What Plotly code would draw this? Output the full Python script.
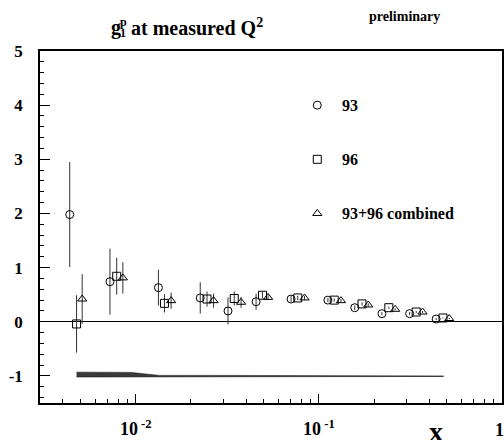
import math
import plotly.graph_objects as go

# ---- data ----
x93 = [0.00436, 0.00723, 0.0133, 0.0225, 0.0319, 0.0454, 0.0705, 0.112, 0.157, 0.221, 0.313, 0.437]
y93 = [1.98, 0.74, 0.63, 0.44, 0.20, 0.37, 0.42, 0.40, 0.26, 0.15, 0.15, 0.05]
e93 = [0.97, 0.61, 0.33, 0.29, 0.25, 0.15, 0.06, 0.04, 0.04, 0.03, 0.03, 0.02]

x96 = [0.00475, 0.00787, 0.01435, 0.0245, 0.0345, 0.0492, 0.0767, 0.1213, 0.172, 0.241, 0.34, 0.476]
y96 = [-0.04, 0.84, 0.34, 0.42, 0.43, 0.49, 0.44, 0.40, 0.33, 0.26, 0.18, 0.07]
e96 = [0.53, 0.34, 0.17, 0.14, 0.13, 0.06, 0.04, 0.03, 0.03, 0.02, 0.02, 0.01]

xcomb = [0.0051, 0.0085, 0.0156, 0.0266, 0.0376, 0.0528, 0.0835, 0.132, 0.186, 0.261, 0.368, 0.515]
ycomb = [0.42, 0.81, 0.39, 0.39, 0.36, 0.45, 0.44, 0.39, 0.31, 0.23, 0.18, 0.06]
ecomb = [0.46, 0.29, 0.15, 0.13, 0.10, 0.05, 0.04, 0.03, 0.03, 0.02, 0.02, 0.01]

band_x = [0.00475, 0.0075, 0.0095, 0.011, 0.0135, 0.03, 0.06, 0.12, 0.25, 0.48]
band_hi = [-0.93, -0.93, -0.935, -0.96, -0.99, -0.99, -0.993, -0.995, -0.997, -1.0]
band_lo = [-1.02, -1.02, -1.02, -1.02, -1.015, -1.015, -1.012, -1.012, -1.01, -1.01]

legend_labels = ["93", "96", "93+96 combined"]
legend_y = [4.0, 3.0, 2.0]
legend_x = 0.098
legend_text_x = 0.13

xtick_vals = [0.01, 0.1]
xtick_text = ["<b>10<sup> -2</sup></b>", "<b>10<sup> -1</sup></b>"]
ytick_vals = [-1, 0, 1, 2, 3, 4, 5]
ytick_text = ["<b>-1</b>", "<b>0</b>", "<b>1</b>", "<b>2</b>", "<b>3</b>", "<b>4</b>", "<b>5</b>"]

FONT = "Liberation Serif"
symbols = ["circle-open", "square-open", "triangle-up-open"]

fig = go.Figure()

# systematic band
fig.add_trace(go.Scatter(x=band_x, y=band_lo, mode="lines",
                         line=dict(color="black", width=0.5), showlegend=False))
fig.add_trace(go.Scatter(x=band_x, y=band_hi, mode="lines", fill="tonexty",
                         fillcolor="#3a3a3a",
                         line=dict(color="black", width=0.5), showlegend=False))

for xs, ys, es, sym in [(x93, y93, e93, symbols[0]),
                        (x96, y96, e96, symbols[1]),
                        (xcomb, ycomb, ecomb, symbols[2])]:
    fig.add_trace(go.Scatter(
        x=xs, y=ys, mode="markers",
        marker=dict(symbol=sym, size=8, color="black", line=dict(width=1, color="black")),
        error_y=dict(type="data", array=es, visible=True, color="#333", thickness=1, width=0),
        showlegend=False))

# legend markers
for sym, ly in zip(symbols, legend_y):
    fig.add_trace(go.Scatter(
        x=[legend_x], y=[ly], mode="markers",
        marker=dict(symbol=sym, size=8, color="black", line=dict(width=1, color="black")),
        showlegend=False))

annotations = []
for lab, ly in zip(legend_labels, legend_y):
    annotations.append(dict(x=math.log10(legend_text_x), y=ly, xref="x", yref="y",
                            text="<b>" + lab + "</b>", showarrow=False, xanchor="left", yanchor="middle",
                            font=dict(family=FONT, size=16, color="black")))

# title pieces and other texts (pixel positions, converted below)
annotations += [
    dict(x=109, y=27, xref="paper", yref="paper", text="<b>g</b>", showarrow=False,
         xanchor="left", yanchor="middle",
         font=dict(family=FONT, size=20, color="black")),
    dict(x=118, y=22, xref="paper", yref="paper", text="<b>p</b>", showarrow=False,
         xanchor="left", yanchor="middle",
         font=dict(family=FONT, size=12, color="black")),
    dict(x=118, y=33, xref="paper", yref="paper", text="<b>1</b>", showarrow=False,
         xanchor="left", yanchor="middle",
         font=dict(family=FONT, size=12, color="black")),
    dict(x=129, y=27, xref="paper", yref="paper", text="<b>at measured Q<sup>2</sup></b>",
         showarrow=False, xanchor="left", yanchor="middle",
         font=dict(family=FONT, size=20, color="black")),
    dict(x=367, y=17, xref="paper", yref="paper", text="<b>preliminary</b>",
         showarrow=False, xanchor="left", yanchor="middle",
         font=dict(family=FONT, size=14, color="black")),
    dict(x=436, y=431, xref="paper", yref="paper", text="<b>x</b>",
         showarrow=False, xanchor="center", yanchor="middle",
         font=dict(family=FONT, size=28, color="black")),
    dict(x=499, y=430, xref="paper", yref="paper", text="<b>1</b>",
         showarrow=False, xanchor="center", yanchor="middle",
         font=dict(family=FONT, size=18, color="black")),
]
W, H = 504, 440
ML, MR, MT, MB = 40, 2.3, 51, 37
pw, ph = W - ML - MR, H - MT - MB
for a in annotations:
    if a["xref"] == "paper":
        a["x"] = (a["x"] - ML) / pw
        a["y"] = (H - a["y"] - MB) / ph

fig.update_layout(
    width=W, height=H,
    margin=dict(l=ML, r=MR, t=MT, b=MB, pad=0),
    paper_bgcolor="white", plot_bgcolor="white",
    showlegend=False,
    annotations=annotations,
    font=dict(family=FONT, color="black"),
)

minor_x = [m * 10 ** d for d in (-3, -2, -1) for m in range(2, 10) if 0.003 <= m * 10 ** d < 1]

fig.update_xaxes(
    type="log", range=[math.log10(0.003), 0],
    showgrid=False, zeroline=False,
    showline=True, linecolor="black", linewidth=1.5, mirror=True,
    ticks="inside", ticklen=9, tickwidth=1, tickcolor="black",
    tickvals=xtick_vals + [1], ticktext=xtick_text + [""],
    tickfont=dict(family=FONT, size=18, color="black"),
    ticklabelstandoff=9,
    minor=dict(ticks="inside", ticklen=4, tickwidth=1, tickcolor="black", tickvals=minor_x, showgrid=False),
    automargin=False,
)
fig.update_yaxes(
    range=[-1.5, 5],
    showgrid=False,
    zeroline=True, zerolinecolor="black", zerolinewidth=1,
    showline=True, linecolor="black", linewidth=1.5, mirror=True,
    ticks="inside", ticklen=10, tickwidth=1, tickcolor="black",
    tickvals=ytick_vals, ticktext=ytick_text,
    tickfont=dict(family=FONT, size=17, color="black"),
    ticklabelstandoff=12,
    minor=dict(ticks="inside", ticklen=4, tickwidth=1, tickcolor="black", dtick=0.2, showgrid=False),
    automargin=False,
)

fig.write_html("out.html")
